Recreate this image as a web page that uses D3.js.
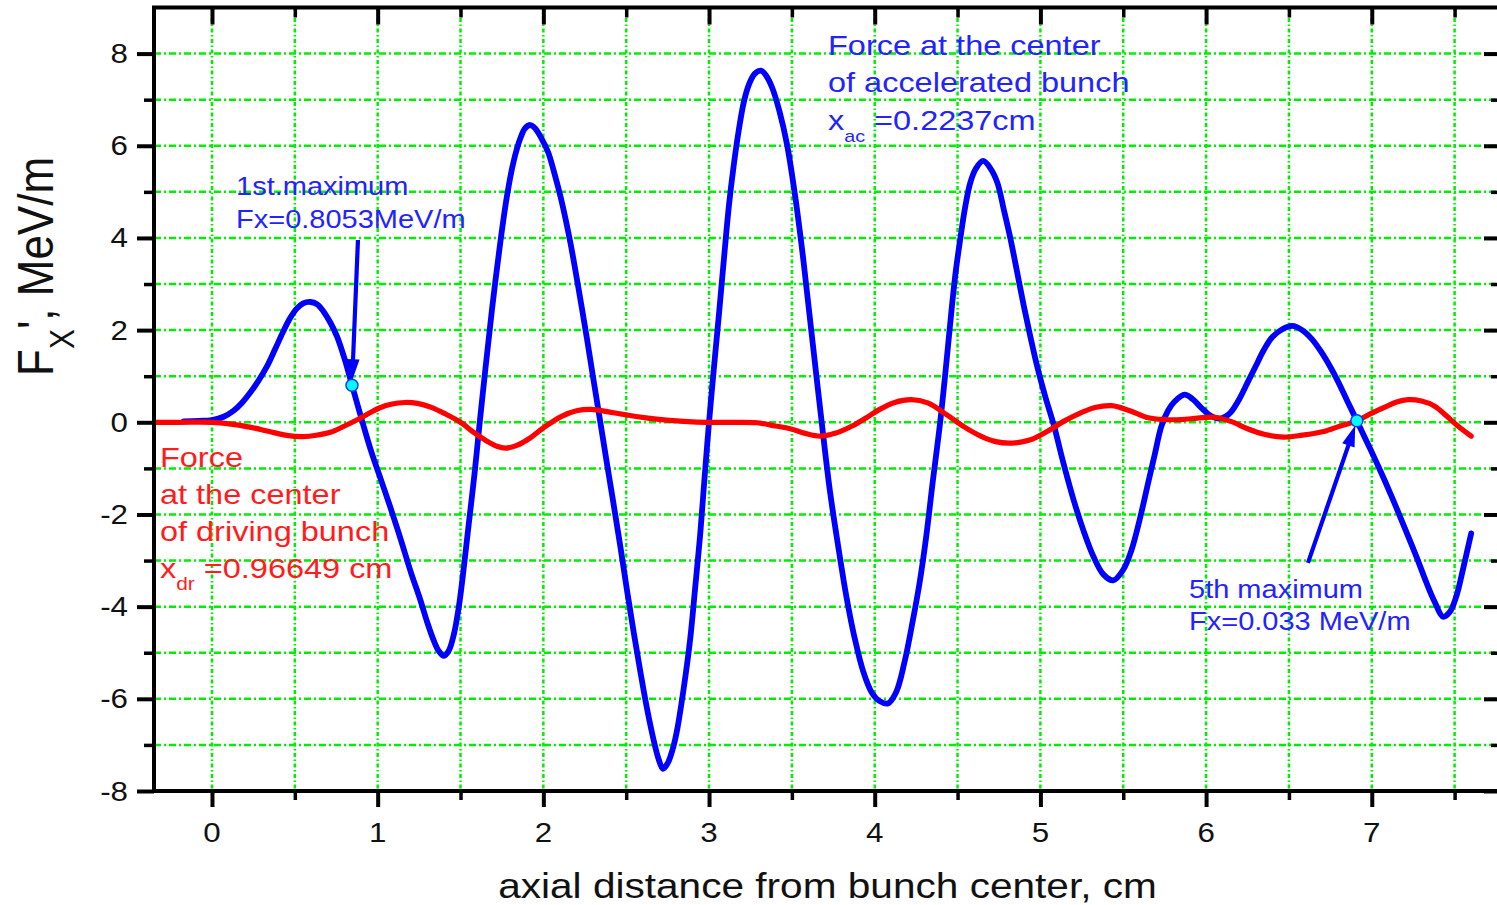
<!DOCTYPE html>
<html>
<head>
<meta charset="utf-8">
<script src="https://cdn.jsdelivr.net/npm/d3@7"></script>
<style>
  html, body { margin: 0; padding: 0; background: #ffffff; }
  svg { display: block; }
</style>
</head>
<body>
<svg id="chart" width="1497" height="905"></svg>
<script>
// Transverse force on the accelerated bunch, [axial distance cm, force MeV/m]
const acceleratedForce = [
  [-0.17, 0.02], [-0.08, 0.03], [0.0, 0.05], [0.07, 0.12], [0.13, 0.25], [0.18, 0.42],
  [0.23, 0.64], [0.28, 0.9], [0.33, 1.2], [0.38, 1.58], [0.43, 1.97], [0.47, 2.25],
  [0.51, 2.46], [0.55, 2.58], [0.594, 2.61], [0.635, 2.56], [0.674, 2.40], [0.715, 2.16],
  [0.755, 1.86], [0.80, 1.38], [0.845, 0.8053], [0.88, 0.36], [0.915, -0.08], [0.96, -0.62],
  [1.02, -1.25], [1.077, -1.85], [1.14, -2.55], [1.20, -3.25], [1.257, -3.85], [1.30, -4.35],
  [1.34, -4.75], [1.37, -4.97], [1.40, -5.07], [1.43, -4.95], [1.46, -4.6], [1.49, -4.0],
  [1.52, -3.15], [1.55, -2.2], [1.585, -1.1], [1.616, 0.0], [1.65, 1.15], [1.69, 2.45],
  [1.74, 3.9], [1.78, 4.9], [1.82, 5.65], [1.86, 6.15], [1.89, 6.38], [1.921, 6.45],
  [1.95, 6.38], [1.99, 6.15], [2.03, 5.85], [2.063, 5.45], [2.11, 4.8], [2.163, 3.9],
  [2.21, 2.95], [2.263, 1.82], [2.30, 0.98], [2.344, 0.0], [2.384, -0.9], [2.424, -1.78],
  [2.465, -2.7], [2.505, -3.65], [2.545, -4.55], [2.585, -5.4], [2.625, -6.2], [2.666, -6.9],
  [2.695, -7.3], [2.722, -7.52], [2.75, -7.4], [2.78, -7.1], [2.806, -6.7], [2.846, -5.8],
  [2.886, -4.71], [2.916, -3.6], [2.946, -2.46], [2.973, -1.2], [3.0, 0.0], [3.03, 1.2],
  [3.06, 2.35], [3.09, 3.55], [3.12, 4.7], [3.15, 5.6], [3.18, 6.35], [3.21, 6.95],
  [3.24, 7.32], [3.275, 7.56], [3.314, 7.63], [3.345, 7.52], [3.38, 7.27], [3.425, 6.75],
  [3.47, 6.04], [3.52, 4.9], [3.57, 3.5], [3.62, 1.9], [3.68, 0.0], [3.73, -1.5],
  [3.78, -2.7], [3.83, -3.8], [3.88, -4.7], [3.93, -5.4], [3.98, -5.85], [4.03, -6.05],
  [4.08, -6.1], [4.13, -5.85], [4.18, -5.2], [4.23, -4.3], [4.27, -3.5], [4.31, -2.5],
  [4.35, -1.3], [4.395, 0.0], [4.43, 1.2], [4.466, 2.52], [4.49, 3.3], [4.516, 3.97],
  [4.545, 4.65], [4.577, 5.2], [4.61, 5.5], [4.654, 5.67], [4.70, 5.5], [4.74, 5.2],
  [4.78, 4.6], [4.82, 3.97], [4.86, 3.25], [4.90, 2.52], [4.94, 1.85], [4.98, 1.22],
  [5.03, 0.55], [5.08, -0.05], [5.14, -0.9], [5.20, -1.68], [5.26, -2.35], [5.32, -2.91],
  [5.38, -3.3], [5.44, -3.43], [5.50, -3.2], [5.55, -2.77], [5.60, -2.1], [5.65, -1.32],
  [5.69, -0.7], [5.73, -0.09], [5.77, 0.25], [5.81, 0.45], [5.87, 0.6], [5.92, 0.5],
  [5.97, 0.32], [6.02, 0.16], [6.08, 0.08], [6.12, 0.13], [6.15, 0.22], [6.20, 0.5],
  [6.25, 0.86], [6.30, 1.22], [6.35, 1.58], [6.40, 1.85], [6.46, 2.02], [6.52, 2.09],
  [6.58, 2.0], [6.64, 1.8], [6.70, 1.5], [6.75, 1.2], [6.79, 0.93], [6.85, 0.48],
  [6.91, 0.033], [6.97, -0.42], [7.03, -0.88], [7.08, -1.28], [7.14, -1.78], [7.20, -2.3],
  [7.27, -2.92], [7.33, -3.48], [7.38, -3.9], [7.43, -4.22], [7.47, -4.12], [7.51, -3.78],
  [7.55, -3.2], [7.60, -2.41]
];

// Transverse force on the driving bunch, [axial distance cm, force MeV/m]
const drivingForce = [
  [-0.35, 0.0], [-0.2, 0.0], [0.0, 0.0], [0.14, -0.05], [0.22, -0.1], [0.30, -0.16],
  [0.38, -0.23], [0.46, -0.29], [0.55, -0.31], [0.63, -0.28], [0.72, -0.21], [0.80, -0.08],
  [0.88, 0.06], [0.95, 0.2], [1.01, 0.31], [1.08, 0.39], [1.165, 0.43], [1.24, 0.41],
  [1.32, 0.33], [1.41, 0.18], [1.505, -0.01], [1.58, -0.22], [1.66, -0.41], [1.72, -0.52],
  [1.77, -0.56], [1.84, -0.5], [1.92, -0.34], [2.0, -0.12], [2.11, 0.13], [2.2, 0.25],
  [2.29, 0.28], [2.4, 0.22], [2.5, 0.16], [2.63, 0.09], [2.76, 0.04], [2.9, 0.01],
  [3.02, 0.0], [3.15, 0.0], [3.29, -0.01], [3.40, -0.08], [3.49, -0.14], [3.58, -0.24],
  [3.67, -0.3], [3.76, -0.24], [3.87, -0.07], [3.95, 0.1], [4.03, 0.28], [4.12, 0.43],
  [4.22, 0.49], [4.32, 0.42], [4.44, 0.15], [4.54, -0.1], [4.64, -0.3], [4.73, -0.42],
  [4.83, -0.45], [4.94, -0.38], [5.04, -0.2], [5.14, 0.02], [5.24, 0.2], [5.33, 0.32],
  [5.43, 0.36], [5.54, 0.25], [5.65, 0.1], [5.75, 0.06], [5.85, 0.06], [5.95, 0.09],
  [6.05, 0.11], [6.15, 0.02], [6.25, -0.14], [6.35, -0.26], [6.47, -0.32], [6.58, -0.28],
  [6.71, -0.2], [6.81, -0.08], [6.91, 0.03], [7.0, 0.2], [7.08, 0.33], [7.15, 0.44],
  [7.22, 0.49], [7.3, 0.46], [7.38, 0.35], [7.45, 0.14], [7.52, -0.08], [7.6, -0.3]
];

// Marked points on the accelerated-bunch curve (1st and 5th maximum)
const markedDistance = [0.845, 6.91];
const markedForce = [0.8053, 0.033];
// Where each arrow starts, [distance, force]
const arrowTails = [[0.881, 3.955], [6.615, -3.05]];

// Axis ticks
const xMajorTicks = [0, 1, 2, 3, 4, 5, 6, 7];
const xMinorTicks = [0.5, 1.5, 2.5, 3.5, 4.5, 5.5, 6.5, 7.5];
const yMajorTicks = [-8, -6, -4, -2, 0, 2, 4, 6, 8];
const yMinorTicks = [-7, -5, -3, -1, 1, 3, 5, 7];
const xTickLabels = ["0", "1", "2", "3", "4", "5", "6", "7"];
const yTickLabels = ["-8", "-6", "-4", "-2", "0", "2", "4", "6", "8"];

const FONT = "'Liberation Sans', Arial, Helvetica, sans-serif";
const STRETCH = 1.16;           // glyphs are drawn slightly wide
const BLUE = "#0000ff", RED = "#ff0000", GRID = "#00ee00";
const TEXT_BLUE = "#2323ff", TEXT_RED = "#ff1c1c";

const plotLeft = 154, plotRight = 1501, plotTop = 7.5, plotBottom = 791;
const x = d3.scaleLinear().domain([-0.35, 7.78]).range([plotLeft, plotRight]);
const y = d3.scaleLinear().domain([-8, 9]).range([plotBottom, plotTop]);

const svg = d3.select("#chart");

// ---- grid ----
const grid = svg.append("g");
grid.selectAll("line.gx")
  .data(xMajorTicks.concat(xMinorTicks))
  .join("line")
  .attr("x1", d => x(d)).attr("x2", d => x(d))
  .attr("y1", plotTop).attr("y2", plotBottom)
  .attr("stroke", GRID).attr("stroke-width", 2.5)
  .attr("stroke-dasharray", "4,2.5,1.5,2.5");
grid.selectAll("line.gy")
  .data(yMajorTicks.concat(yMinorTicks).filter(d => d > -8))
  .join("line")
  .attr("x1", plotLeft).attr("x2", plotRight)
  .attr("y1", d => y(d)).attr("y2", d => y(d))
  .attr("stroke", GRID).attr("stroke-width", 2.5)
  .attr("stroke-dasharray", "7,3,2,3");

// ---- curves ----
const line = d3.line().x(d => x(d[0])).y(d => y(d[1])).curve(d3.curveCatmullRom.alpha(0.5));
svg.append("path").datum(acceleratedForce)
  .attr("d", line).attr("fill", "none")
  .attr("stroke", BLUE).attr("stroke-width", 5.8)
  .attr("stroke-linejoin", "round").attr("stroke-linecap", "round");
svg.append("path").datum(drivingForce)
  .attr("d", line).attr("fill", "none")
  .attr("stroke", RED).attr("stroke-width", 5.2)
  .attr("stroke-linejoin", "round").attr("stroke-linecap", "round");

// ---- arrows to the marked points ----
const arrows = svg.append("g");
markedDistance.forEach((mx, i) => {
  const tx = x(arrowTails[i][0]), ty = y(arrowTails[i][1]);
  const px = x(mx), py = y(markedForce[i]);
  const dx = px - tx, dy = py - ty, len = Math.hypot(dx, dy);
  const ux = dx / len, uy = dy / len;
  const tipX = px - ux * 5, tipY = py - uy * 5;
  const headLen = 21, headW = 6.5;
  const bx = tipX - ux * headLen, by = tipY - uy * headLen;
  arrows.append("line")
    .attr("x1", tx).attr("y1", ty).attr("x2", bx + ux * 4).attr("y2", by + uy * 4)
    .attr("stroke", BLUE).attr("stroke-width", 4.2);
  arrows.append("path")
    .attr("d", `M${tipX},${tipY}L${bx - uy * headW},${by + ux * headW}L${bx + uy * headW},${by - ux * headW}Z`)
    .attr("fill", BLUE);
});

// ---- marked points ----
svg.append("g").selectAll("circle")
  .data(markedDistance)
  .join("circle")
  .attr("cx", d => x(d)).attr("cy", (d, i) => y(markedForce[i]))
  .attr("r", 6)
  .attr("fill", "#00ffff").attr("stroke", "#0a3cff").attr("stroke-width", 1.5);

// ---- frame and ticks ----
function styleAxis(g, width) {
  g.select(".domain").remove();
  g.selectAll(".tick line").attr("stroke", "#000").attr("stroke-width", width);
  g.selectAll(".tick text").remove();
}
const axes = svg.append("g");
axes.append("g").attr("transform", `translate(0,${plotBottom})`)
  .call(d3.axisBottom(x).tickValues(xMajorTicks).tickSize(16)).call(g => styleAxis(g, 4));
axes.append("g").attr("transform", `translate(0,${plotBottom})`)
  .call(d3.axisBottom(x).tickValues(xMinorTicks).tickSize(9)).call(g => styleAxis(g, 3.5));
axes.append("g").attr("transform", `translate(0,${plotTop})`)
  .call(d3.axisBottom(x).tickValues(xMajorTicks).tickSize(17)).call(g => styleAxis(g, 4));
axes.append("g").attr("transform", `translate(0,${plotTop})`)
  .call(d3.axisBottom(x).tickValues(xMinorTicks).tickSize(10)).call(g => styleAxis(g, 3.5));
axes.append("g").attr("transform", `translate(${plotLeft},0)`)
  .call(d3.axisLeft(y).tickValues(yMajorTicks).tickSize(17)).call(g => styleAxis(g, 4));
axes.append("g").attr("transform", `translate(${plotLeft},0)`)
  .call(d3.axisLeft(y).tickValues(yMinorTicks).tickSize(10)).call(g => styleAxis(g, 3.5));
axes.append("g").attr("transform", `translate(${plotRight},0)`)
  .call(d3.axisLeft(y).tickValues(yMajorTicks).tickSize(17)).call(g => styleAxis(g, 4));
axes.append("g").attr("transform", `translate(${plotRight},0)`)
  .call(d3.axisLeft(y).tickValues(yMinorTicks).tickSize(10)).call(g => styleAxis(g, 3.5));
axes.append("rect")
  .attr("x", plotLeft).attr("y", plotTop)
  .attr("width", plotRight - plotLeft).attr("height", plotBottom - plotTop)
  .attr("fill", "none").attr("stroke", "#000").attr("stroke-width", 4);

// ---- text helper: a wide-set text block placed at (px, py) ----
function label(px, py, anchor, size, color) {
  return svg.append("g")
    .attr("transform", `translate(${px},${py}) scale(${STRETCH},1)`)
    .append("text")
    .attr("x", 0).attr("y", 0)
    .attr("text-anchor", anchor)
    .attr("font-family", FONT).attr("font-size", size)
    .attr("fill", color);
}

// tick labels
xMajorTicks.forEach((v, i) => label(x(v), 842, "middle", 27, "#111").text(xTickLabels[i]));
yMajorTicks.forEach((v, i) => label(128, y(v) + 9.5, "end", 27, "#111").text(yTickLabels[i]));

// axis titles
label((plotLeft + plotRight) / 2, 898, "middle", 35, "#111").text("axial distance from bunch center, cm");

const yTitle = svg.append("text")
  .attr("transform", "translate(53,376) rotate(-90) scale(1,1.14)")
  .attr("font-family", FONT).attr("font-size", 44).attr("fill", "#111");
yTitle.append("tspan").text("F");
yTitle.append("tspan").attr("font-size", 30).attr("dy", 18).text("X");
yTitle.append("tspan").attr("dy", -18).text("', MeV/m");

// ---- annotations ----
const accX = x(3.718), accY = y(7.97);
label(accX, accY, "start", 28, TEXT_BLUE).text("Force at the center");
label(accX, accY + 37.5, "start", 28, TEXT_BLUE).text("of accelerated bunch");
const acc3 = label(accX, accY + 75, "start", 28, TEXT_BLUE);
acc3.append("tspan").text("x");
acc3.append("tspan").attr("font-size", 17).attr("dy", 12).text("ac");
acc3.append("tspan").attr("dy", -12).text(" =0.2237cm");

const firstX = x(0.145), firstY = y(4.94);
label(firstX, firstY, "start", 25, TEXT_BLUE).text("1st.maximum");
label(firstX, firstY + 33, "start", 25, TEXT_BLUE).text("Fx=0.8053MeV/m");

const drvX = x(-0.314), drvY = y(-0.97);
label(drvX, drvY, "start", 28, TEXT_RED).text("Force");
label(drvX, drvY + 37.5, "start", 28, TEXT_RED).text("at the center");
label(drvX, drvY + 74, "start", 28, TEXT_RED).text("of driving bunch");
const drv4 = label(drvX, drvY + 111, "start", 28, TEXT_RED);
drv4.append("tspan").text("x");
drv4.append("tspan").attr("font-size", 18).attr("dy", 12).text("dr");
drv4.append("tspan").attr("dy", -12).text(" =0.96649 cm");

const fifthX = x(5.897), fifthY = y(-3.81);
label(fifthX, fifthY, "start", 25, TEXT_BLUE).text("5th maximum");
label(fifthX, fifthY + 32, "start", 25, TEXT_BLUE).text("Fx=0.033 MeV/m");
</script>
</body>
</html>
